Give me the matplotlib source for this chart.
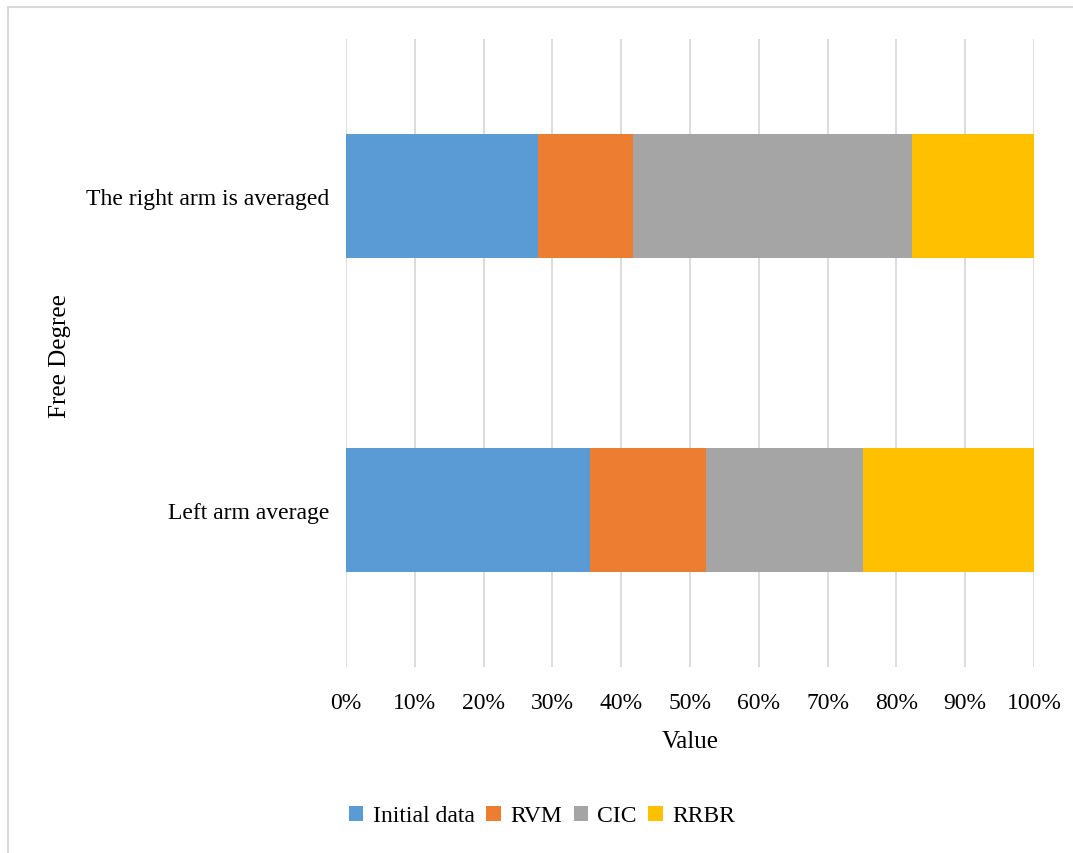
import matplotlib
matplotlib.use("Agg")
import matplotlib.pyplot as plt
from matplotlib.lines import Line2D
from matplotlib.ticker import PercentFormatter

# 100% stacked shares
categories = ["Left arm average", "The right arm is averaged"]
series_names = ["Initial data", "RVM", "CIC", "RRBR"]
initial_data = [35.5, 27.9]
rvm = [16.8, 13.8]
cic = [22.8, 40.6]
rrbr = [24.9, 17.7]
colors = ["#5B9BD5", "#ED7D31", "#A5A5A5", "#FFC000"]
x_ticks = list(range(0, 101, 10))

plt.rcParams["font.family"] = ["Liberation Serif", "DejaVu Serif"]

W, H = 1073, 854
fig = plt.figure(figsize=(W / 100, H / 100), dpi=100)
ax = fig.add_axes([346 / W, 1 - 668 / H, (1034 - 346) / W, (668 - 40) / H])

left = [0.0] * len(categories)
for name, vals, col in zip(series_names, [initial_data, rvm, cic, rrbr], colors):
    ax.barh(range(len(categories)), vals, left=left, height=0.395,
            color=col, label=name, zorder=3)
    left = [a + b for a, b in zip(left, vals)]

ax.set_xlim(0, 100)
ax.set_ylim(-0.5, 1.5)
ax.set_xticks(x_ticks)
ax.xaxis.set_major_formatter(PercentFormatter(decimals=0))
ax.set_yticks(range(len(categories)))
ax.set_yticklabels(categories)
ax.grid(axis="x", color="#d9d9d9", linewidth=1.3, zorder=0)
for s in ax.spines.values():
    s.set_visible(False)
ax.tick_params(length=0, labelsize=17, colors="#000000")
ax.tick_params(axis="x", pad=18)
ax.tick_params(axis="y", pad=12)

ax.set_xlabel("Value", fontsize=18, labelpad=12)
fig.text(60 / W, 1 - 356 / H, "Free Degree", rotation=90, fontsize=18,
         ha="center", va="center")

handles, labels = ax.get_legend_handles_labels()
fig.legend(handles, labels, loc="center", bbox_to_anchor=(542 / W, 1 - 817 / H),
           ncol=4, frameon=False, fontsize=17, handlelength=0.6, handleheight=0.6,
           handletextpad=0.4, columnspacing=0.5)

# light frame on the top and left edges
fig.add_artist(Line2D([8 / W, 1], [1 - 8 / H, 1 - 8 / H], color="#d9d9d9", linewidth=1.5))
fig.add_artist(Line2D([8 / W, 8 / W], [0, 1 - 8 / H], color="#d9d9d9", linewidth=1.5))

fig.savefig("out.png", dpi=100)
